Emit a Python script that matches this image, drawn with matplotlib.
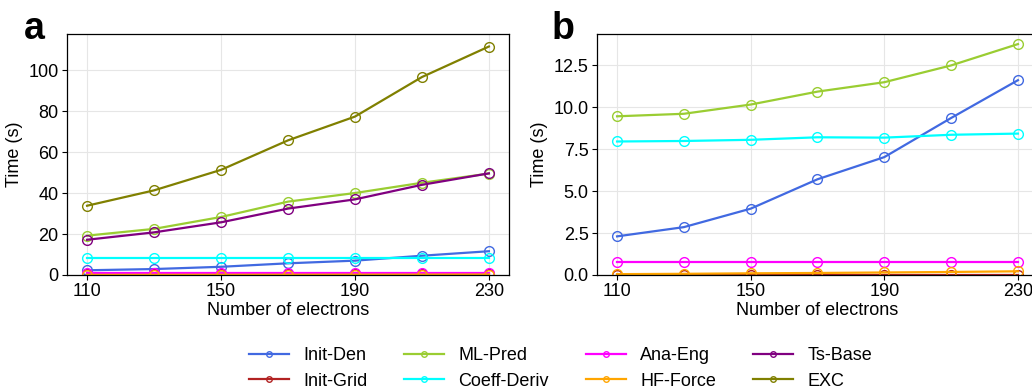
import matplotlib
matplotlib.use("Agg")
import matplotlib.pyplot as plt
from matplotlib.lines import Line2D

plt.rcParams['font.family'] = ['Liberation Sans', 'DejaVu Sans']

electrons = [110, 130, 150, 170, 190, 210, 230]
xticks = [110, 150, 190, 230]

series_names = ["Init-Den", "Init-Grid", "ML-Pred", "Coeff-Deriv",
                "Ana-Eng", "HF-Force", "Ts-Base", "EXC"]
colors = {"Init-Den": "#4169E1", "Init-Grid": "#B22222", "ML-Pred": "#9ACD32",
          "Coeff-Deriv": "#00FFFF", "Ana-Eng": "#FF00FF", "HF-Force": "#FFA500",
          "Ts-Base": "#800080", "EXC": "#808000"}

# Panel a
a_init_den = [2.3, 2.9, 4.0, 5.7, 7.0, 9.4, 11.6]
a_init_grid = [0.3, 0.3, 0.3, 0.3, 0.3, 0.3, 0.3]
a_ml_pred = [19.2, 22.5, 28.3, 35.8, 40.0, 45.0, 49.5]
a_coeff_deriv = [8.1, 8.1, 8.1, 8.1, 8.1, 8.1, 8.1]
a_ana_eng = [0.75, 0.75, 0.75, 0.75, 0.75, 0.75, 0.75]
a_hf_force = [0.05, 0.07, 0.1, 0.12, 0.15, 0.18, 0.22]
a_ts_base = [17.2, 20.8, 25.7, 32.4, 36.9, 44.0, 49.6]
a_exc = [33.8, 41.3, 51.3, 65.7, 77.3, 96.6, 111.5]

# Panel b
b_init_den = [2.3, 2.85, 3.95, 5.7, 7.02, 9.35, 11.6]
b_init_grid = [0.02, 0.02, 0.02, 0.02, 0.02, 0.02, 0.02]
b_ml_pred = [9.45, 9.6, 10.15, 10.92, 11.48, 12.48, 13.75]
b_coeff_deriv = [7.95, 7.98, 8.05, 8.2, 8.18, 8.35, 8.42]
b_ana_eng = [0.75, 0.75, 0.75, 0.75, 0.75, 0.75, 0.75]
b_hf_force = [0.05, 0.07, 0.1, 0.12, 0.15, 0.18, 0.22]

panel_a = {"Init-Den": a_init_den, "Init-Grid": a_init_grid, "ML-Pred": a_ml_pred,
           "Coeff-Deriv": a_coeff_deriv, "Ana-Eng": a_ana_eng, "HF-Force": a_hf_force,
           "Ts-Base": a_ts_base, "EXC": a_exc}
panel_b = {"Init-Den": b_init_den, "Init-Grid": b_init_grid, "ML-Pred": b_ml_pred,
           "Coeff-Deriv": b_coeff_deriv, "Ana-Eng": b_ana_eng, "HF-Force": b_hf_force}

fig = plt.figure(figsize=(10.32, 3.91), dpi=100)
ax_a = fig.add_axes([0.0649, 0.2967, 0.4283, 0.6163])
ax_b = fig.add_axes([0.5785, 0.2967, 0.4273, 0.6163])

for ax, data, yticks in [(ax_a, panel_a, [0, 20, 40, 60, 80, 100]),
                         (ax_b, panel_b, [0, 2.5, 5, 7.5, 10, 12.5])]:
    for name in series_names:
        if name in data:
            ax.plot(electrons, data[name], color=colors[name], lw=1.6,
                    marker='o', markersize=7, markerfacecolor='none',
                    markeredgewidth=1.0, label=name)
    ax.set_xticks(xticks)
    ax.set_yticks(yticks)
    ax.set_xlim(104, 236)
    ax.grid(True, color='#e6e6e6', lw=0.8)
    ax.set_axisbelow(True)
    ax.tick_params(labelsize=13, length=3.5, width=0.8, pad=2.5)
    ax.set_xlabel("Number of electrons", fontsize=13, labelpad=1)
    ax.set_ylabel("Time (s)", fontsize=13, labelpad=4)
    for s in ax.spines.values():
        s.set_linewidth(0.9)

ax_b.set_yticklabels([f"{v:.1f}" for v in [0, 2.5, 5, 7.5, 10, 12.5]])
ax_a.set_ylim(0, 117.6)
ax_b.set_ylim(0, 14.35)

fig.text(0.023, 0.900, "a", fontsize=27, fontweight='bold', va='baseline', ha='left')
fig.text(0.534, 0.900, "b", fontsize=27, fontweight='bold', va='baseline', ha='left')

handles = [Line2D([0], [0], color=colors[n], lw=1.6, marker='o', markersize=4,
                  markerfacecolor='none', markeredgewidth=1.0) for n in series_names]
fig.legend(handles, series_names, loc='center', ncol=4, frameon=False,
           fontsize=13, bbox_to_anchor=(0.543, 0.0575), columnspacing=2.05,
           handlelength=2.2, handletextpad=0.8, labelspacing=0.45)

fig.savefig("out.png", dpi=100)
